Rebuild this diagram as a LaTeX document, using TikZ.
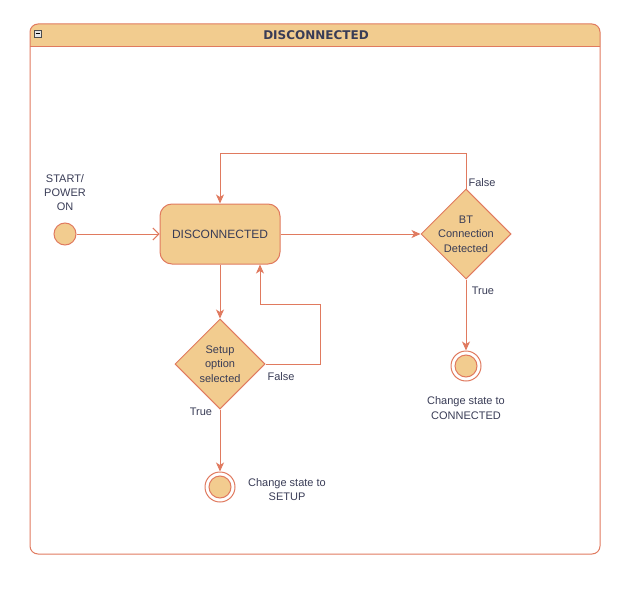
\documentclass[tikz,border=0pt]{standalone}
\usepackage{fontspec}
\setmainfont{Liberation Sans}
\newfontfamily\titlefont{DejaVu Sans}
\usetikzlibrary{arrows.meta,shapes.geometric,calc}
\definecolor{fillc}{HTML}{F2CC8F}
\definecolor{linec}{HTML}{E07A5F}
\definecolor{textc}{HTML}{393C56}
\begin{document}
\begin{tikzpicture}[x=1pt,y=-1pt,
  font=\fontsize{11}{14.3}\selectfont, text=textc,
  ln/.style={draw=linec, line width=1pt},
  arr/.style={ln, -{Stealth[length=9pt,width=8pt,inset=2.5pt]}},
  openarr/.style={ln, -{Straight Barb[length=6pt,width=12pt]}},
  statebox/.style={ln, fill=fillc, rounded corners=12pt, minimum width=120pt, minimum height=60pt, inner sep=0pt, font=\fontsize{12}{14}\selectfont},
  decision/.style={ln, fill=fillc, diamond, minimum width=90pt, minimum height=90pt, inner sep=0pt},
  startdot/.style={ln, fill=fillc, circle, minimum size=22pt, inner sep=0pt},
  endring/.style={ln, fill=white, circle, minimum size=30pt, inner sep=0pt},
  enddot/.style={ln, fill=fillc, circle, minimum size=22pt, inner sep=0pt},
  lbl/.style={align=center, inner sep=0pt}
]
\useasboundingbox (0,0) rectangle (644,588);
% container
\fill[fillc, rounded corners=8pt] (30,47) -- (30,24) -- (600,24) -- (600,47);
\draw[ln] (30,47) -- (600,47);
\draw[ln, rounded corners=8pt] (30,24) rectangle (600,554);
\draw[gray!60!black, fill=gray!20, line width=0.5pt] (34,30) rectangle (41,37);
\draw[black, line width=1pt] (35.5,33.5) -- (39.5,33.5);
\node[lbl, font=\titlefont\bfseries\fontsize{12}{14}\selectfont] (title) at (316,35) {DISCONNECTED};

% nodes
\node[startdot] (start) at (65,234) {};
\node[lbl] (starttxt) at (65,192.5) {START/\\POWER\\ON};
\node[statebox] (disc) at (220,234) {DISCONNECTED};
\node[decision] (bt) at (466,234) {};
\node[lbl] (bttxt) at (466,234) {BT\\Connection\\Detected};
\node[decision] (setup) at (220,364) {};
\node[lbl] (setuptxt) at (220,364) {Setup\\option\\selected};
\node[endring] (endc) at (466,366) {};
\node[enddot] (endcin) at (466,366) {};
\node[lbl] (endctxt) at (466,408) {Change state to\\CONNECTED};
\node[endring] (ends) at (220,487) {};
\node[enddot] (endsin) at (220,487) {};
\node[lbl] (endstxt) at (287,489.5) {Change state to\\SETUP};
\coordinate (f1) at (320,304);

% connectors
\draw[openarr] (start) -- (disc);
\draw[arr] (disc) -- (bt);
\draw[arr] (bt.north) -- ++(0,-35) -| (disc.north);
\draw[arr] (bt.south) -- (endc.north);
\draw[arr] (disc.south) -- (setup.north);
\draw[arr] (setup.east) -| (f1) -| ([xshift=40pt]disc.south);
\draw[arr] (setup.south) -- (ends.north);

% labels
\node[lbl] (lf1) at (482,183) {False};
\node[lbl] (lt1) at (483,291) {True};
\node[lbl] (lf2) at (281,377) {False};
\node[lbl] (lt2) at (201,412) {True};
\end{tikzpicture}
\end{document}
